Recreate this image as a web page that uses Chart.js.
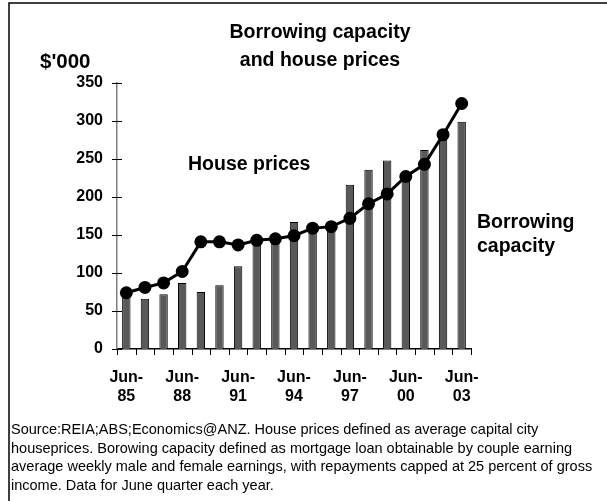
<!DOCTYPE html>
<html>
<head>
<meta charset="utf-8">
<script src="https://cdn.jsdelivr.net/npm/chart.js@4"></script>
<style>
  html, body { margin: 0; padding: 0; background: #fff; }
  #wrap { position: absolute; left: 0; top: 0; width: 607px; height: 501px; }
</style>
</head>
<body>
<div id="wrap"><canvas id="chart"></canvas></div>
<script>
const years = ['85', '86', '87', '88', '89', '90', '91', '92', '93', '94',
               '95', '96', '97', '98', '99', '00', '01', '02', '03'];
const housePrices = [74, 81, 87, 102, 141, 141, 137, 143, 145, 149,
                     159, 161, 172, 191, 204, 227, 243, 282, 323];
const borrowingCapacity = [72, 66, 72, 87, 75, 84, 109, 137, 148, 167,
                           153, 158, 216, 236, 248, 224, 262, 280, 299];
const yTicks = [0, 50, 100, 150, 200, 250, 300, 350];

const titleLines = ['Borrowing capacity', 'and house prices'];
const footnote = [
    'Source:REIA;ABS;Economics@ANZ. House prices defined as average capital city',
    'houseprices. Borowing capacity defined as mortgage loan obtainable by couple earning',
    'average weekly male and female earnings, with repayments capped at 25 percent of gross',
    'income. Data for June quarter each year.'
];

const FONT = '"Liberation Sans", Arial, sans-serif';

// frame, headings, side labels, tick marks and source note
const extras = {
    id: 'extras',
    beforeDraw(chart) {
        const c = chart.ctx;
        c.save();
        c.strokeStyle = '#000';
        c.lineWidth = 1.5;
        c.beginPath();
        c.moveTo(9, 501);
        c.lineTo(9, 3);
        c.lineTo(607, 3);
        c.stroke();
        c.restore();
    },
    afterDraw(chart) {
        const c = chart.ctx;
        const y = chart.scales.y;
        const area = chart.chartArea;
        c.save();
        c.strokeStyle = '#000';
        c.lineWidth = 1;
        // y ticks cross the axis
        yTicks.forEach(v => {
            const py = Math.round(y.getPixelForValue(v)) + 0.5;
            c.beginPath();
            c.moveTo(area.left - 5, py);
            c.lineTo(area.left + 5, py);
            c.stroke();
        });
        // x ticks at category boundaries, pointing down
        const step = (area.right - area.left) / years.length;
        for (let i = 0; i <= years.length; i++) {
            const px = Math.round(area.left + i * step) + 0.5;
            c.beginPath();
            c.moveTo(px, area.bottom);
            c.lineTo(px, area.bottom + 6);
            c.stroke();
        }

        c.fillStyle = '#000';
        c.textBaseline = 'middle';
        c.font = 'bold 19.5px ' + FONT;
        c.textAlign = 'center';
        c.fillText(titleLines[0], 320, 33);
        c.fillText(titleLines[1], 320, 61);
        c.textAlign = 'left';
        c.fillText('House prices', 188, 165);
        c.fillText('Borrowing', 477, 223);
        c.fillText('capacity', 477, 247);
        c.font = 'bold 20.5px ' + FONT;
        c.fillText("$'000", 40, 62);

        c.font = '14.5px ' + FONT;
        footnote.forEach((line, i) => c.fillText(line, 11, 430 + i * 18.5));
        c.restore();
    }
};

const ctx = document.getElementById('chart').getContext('2d');
new Chart(ctx, {
    type: 'bar',
    data: {
        labels: years,
        datasets: [
            {
                type: 'line',
                label: 'House prices',
                data: housePrices,
                borderColor: '#000',
                backgroundColor: '#000',
                borderWidth: 3,
                pointRadius: 5,
                pointBackgroundColor: '#000',
                pointBorderColor: '#000',
                tension: 0,
                fill: false,
                order: 0
            },
            {
                label: 'Borrowing capacity',
                data: borrowingCapacity,
                backgroundColor: '#595959',
                borderColor: '#000',
                borderWidth: 1,
                barPercentage: 0.45,
                categoryPercentage: 1,
                order: 1
            }
        ]
    },
    options: {
        responsive: true,
        maintainAspectRatio: false,
        animation: false,
        layout: { padding: { left: 57, top: 83, right: 136, bottom: 92 } },
        plugins: {
            legend: { display: false },
            tooltip: { enabled: false },
            title: { display: false }
        },
        scales: {
            x: {
                offset: true,
                grid: { display: false, drawTicks: false },
                border: { display: true, color: '#000', width: 1.5 },
                afterFit: s => { s.height = 60; },
                ticks: {
                    autoSkip: false,
                    maxRotation: 0,
                    padding: 19,
                    color: '#000',
                    font: { family: FONT, size: 16, weight: 'bold' },
                    callback: (v, i) => i % 3 === 0 ? ['Jun-', years[i]] : ''
                }
            },
            y: {
                min: 0,
                max: 350,
                grid: { display: false, drawTicks: false },
                border: { display: true, color: '#808080', width: 1.5 },
                afterFit: s => { s.width = 60; },
                ticks: {
                    stepSize: 50,
                    padding: 14,
                    color: '#000',
                    font: { family: FONT, size: 16, weight: 'bold' }
                }
            }
        }
    },
    plugins: [extras]
});
</script>
</body>
</html>
